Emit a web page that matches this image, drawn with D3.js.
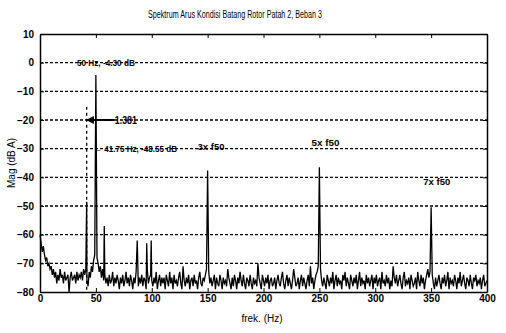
<!DOCTYPE html>
<html>
<head>
<meta charset="utf-8">
<script src="https://cdn.jsdelivr.net/npm/d3@7"></script>
<style>
  body { margin: 0; background: #fff; }
  svg text { font-family: 'Liberation Sans', Arial, sans-serif; fill: #000; }
</style>
</head>
<body>
<div id="chart"></div>
<script>
// noise floor, one value per Hz (0..400 Hz)
const noiseDb = [
  -60,-63,-66,-64,-67,-69,-68,-71,-70,-72,
  -71,-74,-72,-75,-73,-77,-74,-76,-72,-75,
  -74,-77,-73,-76,-75,-74,-80,-75,-73,-76,
  -75,-74,-77,-73,-76,-74,-75,-73,-76,-72,
  -74,-72,-76,-78,-73,-75,-71,-73,-69,-67,
  -66,-68,-70,-73,-71,-75,-72,-76,-74,-77,
  -75,-78,-74,-77,-76,-73,-78,-75,-77,-74,
  -76,-79,-75,-77,-74,-78,-76,-73,-77,-75,
  -78,-74,-76,-79,-75,-77,-73,-76,-78,-75,
  -77,-74,-78,-75,-76,-79,-72,-77,-75,-74,
  -76,-78,-75,-77,-73,-79,-76,-74,-78,-75,
  -77,-75,-79,-74,-76,-78,-73,-77,-75,-79,
  -74,-77,-76,-78,-75,-73,-77,-79,-71,-76,
  -78,-75,-77,-74,-79,-76,-75,-78,-74,-77,
  -76,-79,-75,-73,-77,-78,-75,-76,-74,-72,
  -70,-73,-77,-75,-78,-76,-74,-79,-75,-77,
  -78,-74,-76,-79,-75,-77,-76,-78,-72,-75,
  -77,-79,-75,-78,-74,-76,-79,-75,-77,-73,
  -76,-78,-74,-77,-79,-75,-76,-78,-74,-77,
  -79,-75,-77,-76,-78,-70,-75,-77,-79,-74,
  -76,-78,-75,-77,-74,-79,-76,-75,-78,-77,
  -75,-79,-76,-74,-77,-78,-75,-73,-77,-79,
  -76,-74,-78,-75,-77,-79,-76,-72,-75,-78,
  -77,-75,-79,-76,-74,-78,-75,-77,-79,-76,
  -74,-78,-71,-77,-75,-79,-76,-74,-73,-71,
  -69,-72,-76,-78,-75,-77,-79,-74,-76,-78,
  -75,-77,-73,-79,-76,-74,-78,-75,-77,-76,
  -79,-74,-76,-73,-78,-75,-77,-79,-74,-76,
  -78,-75,-77,-74,-79,-76,-73,-78,-75,-77,
  -76,-79,-74,-77,-75,-78,-76,-74,-79,-75,
  -77,-74,-78,-76,-75,-79,-73,-77,-76,-78,
  -74,-77,-75,-79,-76,-78,-71,-75,-77,-74,
  -78,-76,-74,-77,-79,-75,-73,-78,-76,-77,
  -75,-79,-74,-76,-78,-77,-75,-79,-73,-76,
  -78,-74,-77,-75,-79,-76,-74,-72,-75,-73,
  -72,-74,-77,-79,-75,-78,-76,-74,-77,-79,
  -75,-77,-74,-78,-76,-73,-79,-75,-77,-76,
  -78,-74,-76,-79,-75,-77,-73,-78,-76,-74,
  -77,-79,-75,-76,-78,-74,-77,-79,-75,-76,
  -74,-78,-76,-77,-75,-79,-76,-74,-78,-77,
  -76
];

// spectral peaks
const peakFreq = [41.75, 50, 57.5, 87, 95.5, 99.5, 150, 250, 350];
const peakDb = [-48.55, -4.3, -57, -62, -63, -62, -37.6, -36.5, -50.4];

const xTicks = [0, 50, 100, 150, 200, 250, 300, 350, 400];
const yTicks = [10, 0, -10, -20, -30, -40, -50, -60, -70, -80];
const gridDb = [0, -10, -20, -30, -40, -50, -60, -70];

const titleText = 'Spektrum Arus Kondisi Batang Rotor Patah 2, Beban 3';
const xLabel = 'frek. (Hz)';
const yLabel = 'Mag (dB A)';

// annotation texts: [text, freq, dB]
const notes = [
  ['50 Hz, -4.30 dB', 33, 0],
  ['← 41.75 Hz, -48.55 dB', 48.3, -30],
  ['3x f50', 141, -29.3],
  ['5x f50', 243, -28],
  ['7x f50', 343, -41.4]
];

const width = 506, height = 333;
const margin = { top: 34, right: 19, bottom: 41, left: 40 };
const noteWidths = [58, 83, 27, 28, 27];

const svg = d3.select('#chart').append('svg')
  .attr('width', width)
  .attr('height', height);

const x = d3.scaleLinear().domain([0, 400]).range([margin.left, width - margin.right]);
const y = d3.scaleLinear().domain([-80, 10]).range([height - margin.bottom, margin.top]);

// merge noise and peaks into one spectrum
let spectrum = noiseDb.map((d, i) => [i, d]).filter(d => peakFreq.indexOf(d[0]) < 0);
peakFreq.forEach((f, i) => spectrum.push([f, peakDb[i]]));
spectrum.sort((a, b) => a[0] - b[0]);

// grid
svg.append('g').selectAll('line')
  .data(gridDb)
  .enter().append('line')
  .attr('x1', x(0)).attr('x2', x(400))
  .attr('y1', d => y(d)).attr('y2', d => y(d))
  .attr('stroke', '#000')
  .attr('stroke-width', 1.3)
  .attr('stroke-dasharray', '3,2');

// dotted marker at 41.75 Hz
svg.append('line')
  .attr('x1', x(41.75)).attr('x2', x(41.75))
  .attr('y1', y(-15.4)).attr('y2', y(-80))
  .attr('stroke', '#000')
  .attr('stroke-width', 1.3)
  .attr('stroke-dasharray', '3,3');

// spectrum line
svg.append('path')
  .datum(spectrum)
  .attr('fill', 'none')
  .attr('stroke', '#000')
  .attr('stroke-width', 1.3)
  .attr('d', d3.line().x(d => x(d[0])).y(d => y(d[1])));

// axes, ticks inward
const tickFont = g => g.selectAll('text')
  .style('font-size', '10px')
  .style('font-weight', 'bold')
  .style('font-family', "'Liberation Sans', Arial, sans-serif");

const fix = g => {
  g.select('.domain').attr('stroke', '#000').attr('stroke-width', 1.5);
  g.selectAll('.tick line').attr('stroke', '#000');
};

svg.append('g')
  .attr('transform', `translate(0,${y(-80)})`)
  .call(d3.axisBottom(x).tickValues(xTicks).tickSize(-4).tickPadding(3).tickSizeOuter(0))
  .call(fix).call(tickFont);

svg.append('g')
  .attr('transform', `translate(0,${y(10)})`)
  .call(d3.axisTop(x).tickValues(xTicks).tickSize(-4).tickFormat('').tickSizeOuter(0))
  .call(fix);

svg.append('g')
  .attr('transform', `translate(${x(0)},0)`)
  .call(d3.axisLeft(y).tickValues(yTicks).tickSize(-4).tickPadding(6).tickSizeOuter(0))
  .call(fix).call(tickFont);

svg.append('g')
  .attr('transform', `translate(${x(400)},0)`)
  .call(d3.axisRight(y).tickValues(yTicks).tickSize(-4).tickFormat('').tickSizeOuter(0))
  .call(fix);

// arrow annotation at -20 dB
svg.append('defs').append('marker')
  .attr('id', 'arr')
  .attr('viewBox', '0 0 10 10')
  .attr('refX', 2).attr('refY', 5)
  .attr('markerWidth', 4).attr('markerHeight', 4)
  .attr('orient', 'auto')
  .append('path').attr('d', 'M10,0 L0,5 L10,10 z').attr('fill', '#000');

svg.append('line')
  .attr('x1', x(42.5)).attr('x2', x(67))
  .attr('y1', y(-20)).attr('y2', y(-20))
  .attr('stroke', '#000')
  .attr('stroke-width', 2)
  .attr('marker-start', 'url(#arr)');

svg.append('text')
  .attr('x', x(67)).attr('y', y(-20) + 3.5)
  .attr('textLength', 22).attr('lengthAdjust', 'spacingAndGlyphs')
  .style('font-size', '10px').style('font-weight', 'bold')
  .text('1.381');

svg.append('g').selectAll('text')
  .data(notes)
  .enter().append('text')
  .attr('x', d => x(d[1]))
  .attr('y', d => y(d[2]) + 3.5)
  .attr('textLength', (d, i) => noteWidths[i])
  .attr('lengthAdjust', 'spacingAndGlyphs')
  .style('font-size', '9.5px')
  .style('font-weight', 'bold')
  .text(d => d[0]);

// title and labels
svg.append('text')
  .attr('x', 148).attr('y', 18)
  .attr('textLength', 174).attr('lengthAdjust', 'spacingAndGlyphs')
  .style('font-size', '10px')
  .text(titleText);

svg.append('text')
  .attr('x', 262).attr('y', 322)
  .attr('text-anchor', 'middle')
  .style('font-size', '10px')
  .text(xLabel);

svg.append('text')
  .attr('transform', `translate(15,${y(-35)}) rotate(-90)`)
  .attr('text-anchor', 'middle')
  .style('font-size', '10px')
  .text(yLabel);
</script>
</body>
</html>
